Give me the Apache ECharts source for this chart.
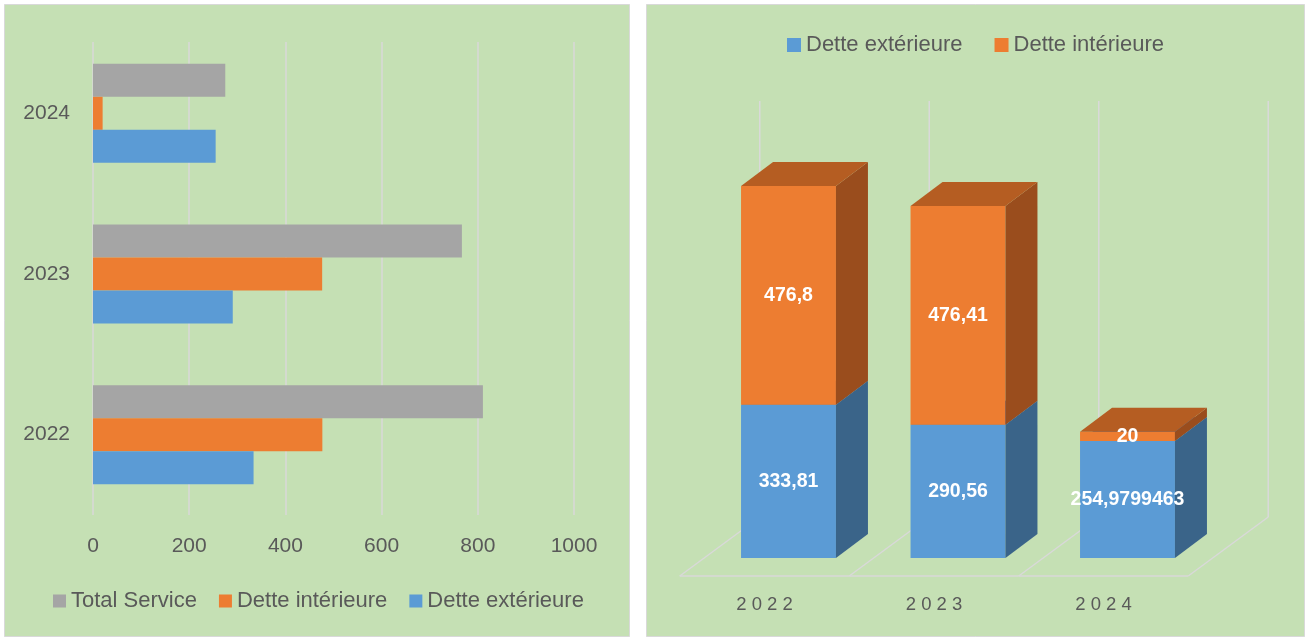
<!DOCTYPE html>
<html><head><meta charset="utf-8">
<script src="https://cdn.jsdelivr.net/npm/echarts@6/dist/echarts.min.js"></script>
<style>html,body{margin:0;padding:0;background:#fff}#c{width:1307px;height:639px}</style>
</head><body><div id="c"></div>
<script>
// ---- data ----
const years = ['2022', '2023', '2024'];
const detteExterieure = [333.81, 290.56, 254.9799463];
const detteInterieure = [476.8, 476.41, 20];
const totalService = [810.61, 766.97, 274.98];
const hAxisMin = 0, hAxisMax = 1000, hAxisStep = 200;
const vAxisMax = 900;

// ---- style constants ----
const FONT = 'Liberation Sans, Arial, sans-serif';
const TXT = '#595959';
const GREEN = '#C5E0B4';
const GRID = '#D9D9D9';
const BLUE = '#5B9BD5', BLUE_SIDE = '#3A6489', BLUE_TOP = '#4A7FB0';
const ORANGE = '#ED7D31', ORANGE_SIDE = '#9A4D1D', ORANGE_TOP = '#B55D22';
const GREY = '#A5A5A5';
const BAR_DEPTH = [32, -24];
const FLOOR_FRONT = [-24, 18];
const FLOOR_BACK = [56, -41];

const fmt = v => String(v).replace('.', ',');

function renderFloor(params, api) {
  const i = api.value(0);
  const c = api.coord([i, 0]);
  const top = api.coord([i, vAxisMax]);
  const bw = api.size([1, 0])[0];
  const ls = { stroke: GRID, lineWidth: 1.5 };
  const children = [];
  const yF = c[1] + FLOOR_FRONT[1];
  children.push({ type: 'line', shape: { x1: c[0] - bw / 2 + FLOOR_FRONT[0], y1: yF, x2: c[0] + bw / 2 + FLOOR_FRONT[0], y2: yF }, style: ls });
  const xs = [c[0] - bw / 2];
  if (i === years.length - 1) xs.push(c[0] + bw / 2);
  xs.forEach(x => {
    children.push({ type: 'line', shape: { x1: x + FLOOR_FRONT[0], y1: yF, x2: x + FLOOR_BACK[0], y2: c[1] + FLOOR_BACK[1] }, style: ls });
    children.push({ type: 'line', shape: { x1: x + FLOOR_BACK[0], y1: c[1] + FLOOR_BACK[1], x2: x + FLOOR_BACK[0], y2: top[1] + FLOOR_BACK[1] - 3 }, style: ls });
  });
  return { type: 'group', children };
}

function makeBarRenderer(front, side, topc) {
  return function (params, api) {
    const i = api.value(0), v0 = api.value(1), v1 = api.value(2), lab = api.value(3);
    const p0 = api.coord([i, v0]), p1 = api.coord([i, v1]);
    const bw = api.size([1, 0])[0] * 0.56;
    const xL = p0[0] - bw / 2, xR = p0[0] + bw / 2, yB = p0[1], yT = p1[1];
    const dx = BAR_DEPTH[0], dy = BAR_DEPTH[1];
    return {
      type: 'group',
      children: [
        { type: 'rect', shape: { x: xL, y: yT, width: bw, height: yB - yT }, style: { fill: front } },
        { type: 'polygon', shape: { points: [[xR, yB], [xR + dx, yB + dy], [xR + dx, yT + dy], [xR, yT]] }, style: { fill: side } },
        { type: 'polygon', shape: { points: [[xL, yT], [xL + dx, yT + dy], [xR + dx, yT + dy], [xR, yT]] }, style: { fill: topc } },
        { type: 'text', x: p0[0], y: (yB + yT) / 2, style: { text: fmt(lab), fill: '#fff', font: 'bold 19.5px ' + FONT, align: 'center', verticalAlign: 'middle' } }
      ]
    };
  };
}

const extData = years.map((y, i) => [i, 0, detteExterieure[i], detteExterieure[i]]);
const intData = years.map((y, i) => [i, detteExterieure[i], detteExterieure[i] + detteInterieure[i], detteInterieure[i]]);

const chart = echarts.init(document.getElementById('c'), null, { renderer: 'canvas' });
chart.setOption({
  backgroundColor: '#ffffff',
  animation: false,
  textStyle: { fontFamily: FONT },
  graphic: [
    { type: 'rect', z: -10, shape: { x: 4.5, y: 4.5, width: 625, height: 632 }, style: { fill: GREEN, stroke: GRID, lineWidth: 1 } },
    { type: 'rect', z: -10, shape: { x: 646.5, y: 4.5, width: 658, height: 632 }, style: { fill: GREEN, stroke: GRID, lineWidth: 1 } }
  ],
  legend: [
    {
      left: 53, top: 590, padding: 0, itemWidth: 13, itemHeight: 13, itemGap: 22, icon: 'rect',
      data: ['Total Service', 'Dette intérieure', 'Dette extérieure'],
      textStyle: { color: TXT, fontSize: 22, fontFamily: FONT }
    },
    {
      left: 787, top: 34, padding: 0, itemWidth: 14, itemHeight: 14, itemGap: 32, icon: 'rect',
      data: ['Dette extérieure', 'Dette intérieure'],
      textStyle: { color: TXT, fontSize: 22, fontFamily: FONT }
    }
  ],
  grid: [
    { left: 93, top: 33, width: 481, height: 482 },
    { left: 93, top: 42, width: 481, height: 473 },
    { left: 703.75, top: 145, width: 508.5, height: 413 }
  ],
  xAxis: [
    { type: 'value', gridIndex: 0, min: hAxisMin, max: hAxisMax, interval: hAxisStep,
      axisLine: { show: false }, axisTick: { show: false }, splitLine: { show: false },
      axisLabel: { color: TXT, fontSize: 21, fontFamily: FONT, margin: 21, formatter: v => String(v) } },
    { type: 'value', gridIndex: 1, min: hAxisMin, max: hAxisMax, interval: hAxisStep,
      axisLine: { show: false }, axisTick: { show: false }, axisLabel: { show: false },
      splitLine: { show: true, lineStyle: { color: GRID, width: 1.5 } } },
    { type: 'category', gridIndex: 2, data: years,
      axisLine: { show: false }, axisTick: { show: false }, splitLine: { show: false },
      axisLabel: { color: TXT, fontSize: 18.5, fontFamily: FONT, margin: 37, padding: [0, 48, 0, 0],
        formatter: v => v.split('').join(' ') } }
  ],
  yAxis: [
    { type: 'category', gridIndex: 0, data: years,
      axisLine: { show: false }, axisTick: { show: false },
      axisLabel: { color: TXT, fontSize: 21, fontFamily: FONT, margin: 23 } },
    { type: 'value', gridIndex: 1, show: false, min: 0, max: 1 },
    { type: 'value', gridIndex: 2, show: false, min: 0, max: vAxisMax }
  ],
  series: [
    { name: 'Total Service', type: 'bar', xAxisIndex: 0, yAxisIndex: 0, data: totalService, itemStyle: { color: GREY }, barWidth: 33, barGap: '0%' },
    { name: 'Dette intérieure', type: 'bar', xAxisIndex: 0, yAxisIndex: 0, data: detteInterieure, itemStyle: { color: ORANGE }, barWidth: 33, barGap: '0%' },
    { name: 'Dette extérieure', type: 'bar', xAxisIndex: 0, yAxisIndex: 0, data: detteExterieure, itemStyle: { color: BLUE }, barWidth: 33, barGap: '0%' },
    { name: 'floor', type: 'custom', xAxisIndex: 2, yAxisIndex: 2, clip: false, silent: true,
      data: years.map((y, i) => [i, 0]), renderItem: renderFloor, encode: { x: 0, y: 1 } },
    { name: 'Dette extérieure', type: 'custom', xAxisIndex: 2, yAxisIndex: 2, clip: false,
      itemStyle: { color: BLUE }, data: extData, renderItem: makeBarRenderer(BLUE, BLUE_SIDE, BLUE_TOP), encode: { x: 0, y: [1, 2] } },
    { name: 'Dette intérieure', type: 'custom', xAxisIndex: 2, yAxisIndex: 2, clip: false,
      itemStyle: { color: ORANGE }, data: intData, renderItem: makeBarRenderer(ORANGE, ORANGE_SIDE, ORANGE_TOP), encode: { x: 0, y: [1, 2] } }
  ]
});
</script>
</body></html>
